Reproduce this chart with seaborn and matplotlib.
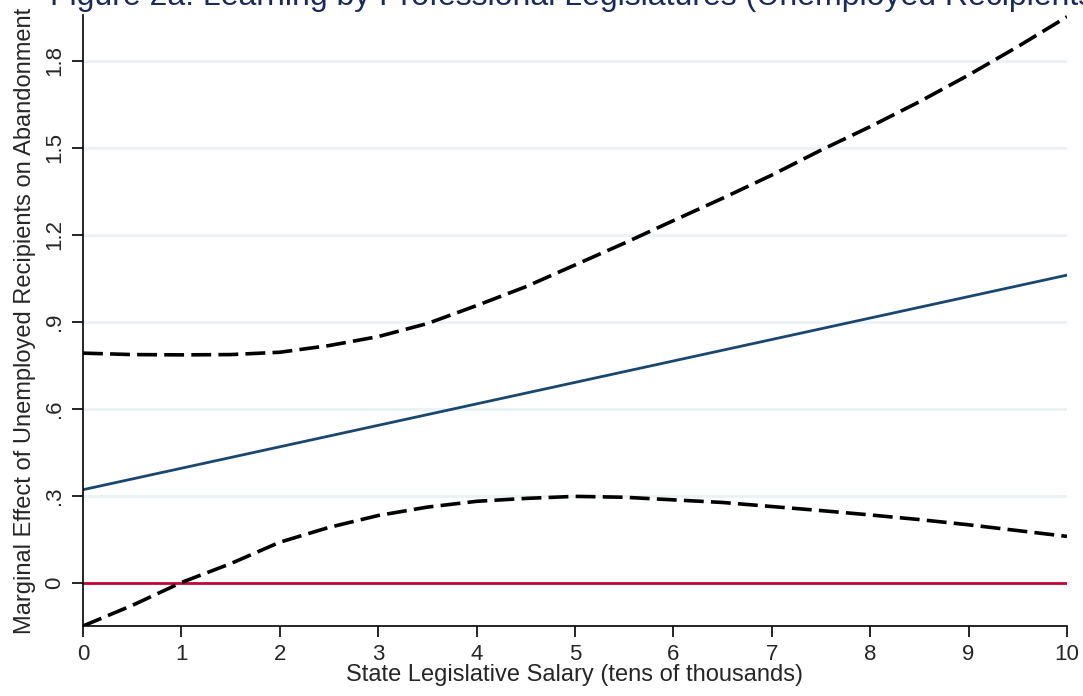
import matplotlib

matplotlib.use("Agg")
import matplotlib.pyplot as plt
import pandas as pd
import seaborn as sns

# values
salary = [0, 0.5, 1, 1.5, 2, 2.5, 3, 3.5, 4, 4.5, 5, 5.5, 6, 6.5, 7, 7.5, 8, 8.5, 9, 9.5, 10]
effect = [0.320, 0.357, 0.394, 0.431, 0.468, 0.505, 0.542, 0.579, 0.616, 0.653, 0.690,
          0.727, 0.764, 0.801, 0.838, 0.875, 0.912, 0.949, 0.986, 1.023, 1.060]
upper_ci = [0.791, 0.786, 0.785, 0.786, 0.794, 0.817, 0.848, 0.893, 0.955, 1.020, 1.095,
            1.170, 1.248, 1.325, 1.405, 1.491, 1.572, 1.658, 1.750, 1.848, 1.951]
lower_ci = [-0.150, -0.079, 0.000, 0.065, 0.139, 0.190, 0.231, 0.260, 0.280, 0.290, 0.297,
            0.294, 0.285, 0.276, 0.262, 0.248, 0.233, 0.217, 0.199, 0.179, 0.159]

y_ticks = [0, 0.3, 0.6, 0.9, 1.2, 1.5, 1.8]
y_tick_labels = ["0", ".3", ".6", ".9", "1.2", "1.5", "1.8"]
x_ticks = list(range(0, 11))

df = pd.DataFrame({"salary": salary, "effect": effect, "upper": upper_ci, "lower": lower_ci})

sns.set_style("white")
plt.rcParams["font.family"] = ["Liberation Sans", "DejaVu Sans"]

fig = plt.figure(figsize=(10.83, 6.96), dpi=100)
ax = fig.add_axes([83 / 1083, 1 - 626 / 696, (1067 - 83) / 1083, (626 - 15) / 696])

for yt in y_ticks[1:]:
    ax.axhline(yt, color="#eaf2f3", linewidth=2, zorder=0)
ax.axhline(0, color="#c10534", linewidth=2, zorder=1)

sns.lineplot(data=df, x="salary", y="upper", ax=ax, color="black", linewidth=2.6,
             linestyle=(0, (5.5, 2.0)), zorder=3)
sns.lineplot(data=df, x="salary", y="lower", ax=ax, color="black", linewidth=2.6,
             linestyle=(0, (5.5, 2.0)), zorder=3)
sns.lineplot(data=df, x="salary", y="effect", ax=ax, color="#1a476f", linewidth=2, zorder=2)

ax.set_xlim(0, 10)
ax.set_ylim(-0.15, 1.957)
ax.set_xticks(x_ticks)
ax.set_yticks(y_ticks)
ax.set_yticklabels(y_tick_labels, rotation=90, va="center")

ax.tick_params(axis="both", direction="out", length=8, width=1.2, color="black",
               labelsize=16, left=True, bottom=True, pad=5)
for side in ["top", "right"]:
    ax.spines[side].set_visible(False)
for side in ["left", "bottom"]:
    ax.spines[side].set_color("black")
    ax.spines[side].set_linewidth(1.2)

ax.set_xlabel("State Legislative Salary (tens of thousands)", fontsize=17, labelpad=-1)
ax.set_ylabel("Marginal Effect of Unemployed Recipients on Abandonment", fontsize=17, labelpad=6)

fig.text(50 / 1083, 1 - 5 / 696, "Figure 2a: Learning by Professional Legislatures (Unemployed Recipients)",
         fontsize=23, color="#1a2b5b", ha="left", va="baseline")

fig.savefig("out.png", dpi=100)
